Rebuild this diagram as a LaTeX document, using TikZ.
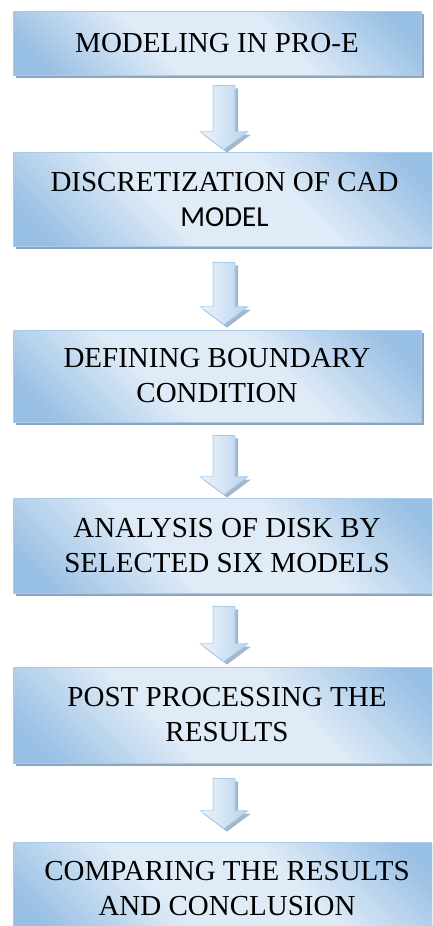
\documentclass[tikz,border=0pt]{standalone}
\usepackage{fontspec}
\setmainfont{Liberation Serif}
\newfontfamily\carlito{Carlito}
\usetikzlibrary{calc,shadows}
\definecolor{bdark}{HTML}{98BFE4}
\definecolor{blight}{HTML}{DFEBF7}
\definecolor{bedge}{HTML}{A9CBEA}
\definecolor{shad}{HTML}{8DA6BE}
\definecolor{alight}{HTML}{EEF4FB}
\definecolor{amid}{HTML}{B8D3EE}
\pgfdeclarehorizontalshading{boxshade}{100bp}{color(0bp)=(bdark); color(20bp)=(bdark); color(40bp)=(blight); color(60bp)=(blight); color(80bp)=(bdark); color(100bp)=(bdark)}
\begin{document}
\begin{tikzpicture}[x=1pt,y=-1pt,
  stepbox/.style={draw=bedge, line width=0.8pt,
    shading=boxshade, shading angle=45,
    drop shadow={shadow xshift=3pt, shadow yshift=-3pt, fill=shad, opacity=1},
    align=center, font=\fontsize{29}{35}\selectfont, inner sep=0pt},
  blockarrow/.style={draw=bedge, line width=0.7pt,
    left color=alight, right color=amid,
    drop shadow={shadow xshift=3pt, shadow yshift=-3pt, fill=shad, opacity=0.8},
    to path={let \p1=(\tikztostart), \p2=(\tikztotarget) in
      (\x1-11pt,\y1) -- (\x1+11pt,\y1) -- (\x1+11pt,\y2+18pt) -- (\x1+24pt,\y2+18pt)
      -- (\x1,\y2) -- (\x1-24pt,\y2+18pt) -- (\x1-11pt,\y2+18pt) -- cycle}}]
\useasboundingbox (0,0) rectangle (432,926);
\clip (0,0) rectangle (432,926);
\coordinate (ax) at (224,0);
\node[stepbox, minimum width=408pt, minimum height=64pt] (b1) at (217,43) {MODELING IN PRO-E};
\node[stepbox, minimum width=423pt, minimum height=94pt] (b2) at (224.5,199) {DISCRETIZATION OF CAD\\{\carlito MODEL}};
\node[stepbox, minimum width=408pt, minimum height=92pt] (b3) at (217,376) {DEFINING BOUNDARY\\CONDITION};
\node[stepbox, minimum width=428pt, minimum height=95pt] (b4) at (227,545.5) {ANALYSIS OF DISK BY\\SELECTED SIX MODELS};
\node[stepbox, minimum width=428pt, minimum height=96pt] (b5) at (227,715) {POST PROCESSING THE\\RESULTS};
\node[stepbox, minimum width=428pt, minimum height=93pt] (b6) at (227,888.5) {COMPARING THE RESULTS\\AND CONCLUSION};
\draw[blockarrow] ($(b1.south -| ax)+(0,10)$) to ($(b2.north -| ax)+(0,-2)$);
\draw[blockarrow] ($(b2.south -| ax)+(0,16)$) to ($(b3.north -| ax)+(0,-5)$);
\draw[blockarrow] ($(b3.south -| ax)+(0,13)$) to ($(b4.north -| ax)+(0,-3)$);
\draw[blockarrow] ($(b4.south -| ax)+(0,13)$) to ($(b5.north -| ax)+(0,-5)$);
\draw[blockarrow] ($(b5.south -| ax)+(0,15)$) to ($(b6.north -| ax)+(0,-13)$);
\end{tikzpicture}
\end{document}
